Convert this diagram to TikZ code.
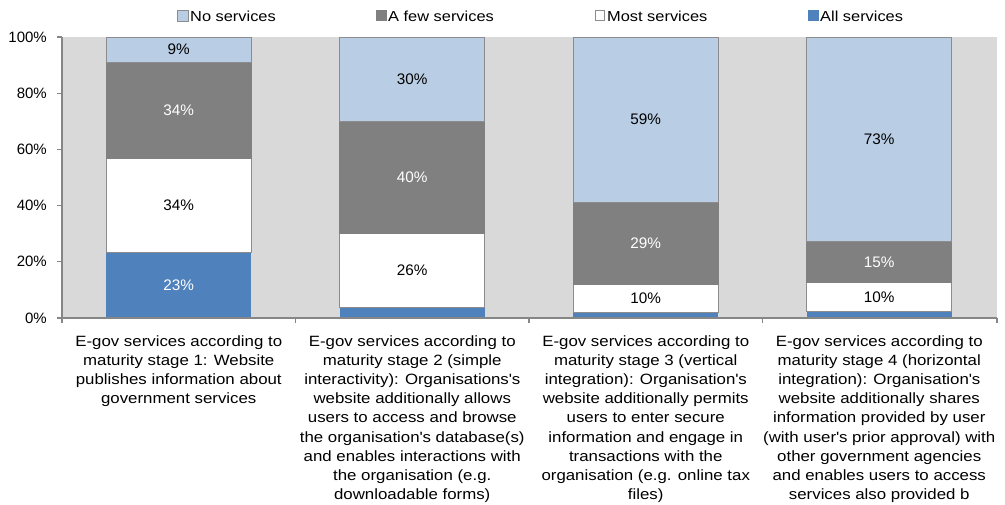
\documentclass[tikz,border=0pt]{standalone}
\usepackage{fontspec}
\setmainfont{Liberation Sans}[FakeStretch=1.13]
\newfontfamily\plainsans{Liberation Sans}
\definecolor{cNo}{HTML}{B9CDE5}
\definecolor{cFew}{HTML}{808080}
\definecolor{cAll}{HTML}{4F81BD}
\definecolor{cBg}{HTML}{D9D9D9}
\definecolor{cEdge}{HTML}{8C8C8C}
\definecolor{cAxis}{HTML}{868686}
\newcommand{\aq}{\textquotesingle}
\newcommand{\pct}[1]{318-2.81*#1}
\newcommand{\seg}[4]{\path[#4] ({#1-72.7},{\pct{#2}}) rectangle ({#1+72.7},{\pct{#3}});}
\tikzset{
  segNo/.style={fill=cNo,draw=cEdge,line width=1pt},
  segFew/.style={fill=cFew,draw=cFew,line width=1pt},
  segMost/.style={fill=white,draw=cEdge,line width=1pt},
  segAll/.style={fill=cAll},
  axisline/.style={draw=cAxis,line width=1.2pt},
  dlab/.style={inner sep=0pt,font=\plainsans\fontsize{15.3}{17}\selectfont},
  dlabw/.style={dlab,text=white},
  ylab/.style={anchor=east,inner sep=0pt,font=\plainsans\fontsize{15}{17}\selectfont},
  leglab/.style={anchor=base west,inner sep=0pt,font=\fontsize{14.5}{16}\selectfont},
  catlab/.style={anchor=north,inner sep=0pt,align=center,font=\fontsize{14.9}{19.2}\selectfont},
}
\begin{document}
\begin{tikzpicture}[x=1pt,y=-1pt]
\useasboundingbox (0,0) rectangle (1005,504);
\fill[cBg] (62,37) rectangle (997,318);
% bar 1
\seg{178.75}{0}{23.2}{segAll}
\seg{178.75}{23.2}{56.9}{segMost}
\seg{178.75}{56.9}{91}{segFew}
\seg{178.75}{91}{100}{segNo}
% bar 2
\seg{412.25}{0}{3.7}{segAll}
\seg{412.25}{3.7}{30.1}{segMost}
\seg{412.25}{30.1}{70.1}{segFew}
\seg{412.25}{70.1}{100}{segNo}
% bar 3
\seg{645.75}{0}{1.9}{segAll}
\seg{645.75}{1.9}{12.1}{segMost}
\seg{645.75}{12.1}{41.2}{segFew}
\seg{645.75}{41.2}{100}{segNo}
% bar 4
\seg{879.25}{0}{2.2}{segAll}
\seg{879.25}{2.2}{12.6}{segMost}
\seg{879.25}{12.6}{27.3}{segFew}
\seg{879.25}{27.3}{100}{segNo}
% data labels
\node[dlabw] (l1a) at (178.75,{\pct{11.6}}) {23\%};
\node[dlab]  (l1m) at (178.75,{\pct{40}}) {34\%};
\node[dlabw] (l1f) at (178.75,{\pct{74}}) {34\%};
\node[dlab]  (l1n) at (178.75,{\pct{95.5}}) {9\%};
\node[dlab]  (l2m) at (412.25,{\pct{16.9}}) {26\%};
\node[dlabw] (l2f) at (412.25,{\pct{50.1}}) {40\%};
\node[dlab]  (l2n) at (412.25,{\pct{85}}) {30\%};
\node[dlab]  (l3m) at (645.75,{\pct{7}}) {10\%};
\node[dlabw] (l3f) at (645.75,{\pct{26.6}}) {29\%};
\node[dlab]  (l3n) at (645.75,{\pct{70.6}}) {59\%};
\node[dlab]  (l4m) at (879.25,{\pct{7.4}}) {10\%};
\node[dlabw] (l4f) at (879.25,{\pct{20}}) {15\%};
\node[dlab]  (l4n) at (879.25,{\pct{63.6}}) {73\%};
% axes
\draw[axisline] (62,37) -- (62,318) -- (997,318);
\foreach \p in {0,20,...,100} {
  \draw[axisline] (57,{\pct{\p}}) -- (62,{\pct{\p}});
  \node[ylab] (y\p) at (47,{\pct{\p}}) {\p\%};
}
\foreach \x in {62,295.5,529,762.5,997} {
  \draw[axisline] (\x,318) -- (\x,323);
}
% legend
\path[segNo,line width=0.8pt] (177,10.5) rectangle (188,21);
\node[leglab] (gNo) at (190,21) {No services};
\path[fill=cFew] (376,10) rectangle (387,21);
\node[leglab] (gFew) at (388,21) {A few services};
\path[segMost,line width=0.8pt] (595,10.5) rectangle (604,20);
\node[leglab] (gMost) at (607,21) {Most services};
\path[fill=cAll] (808,10) rectangle (819,21);
\node[leglab] (gAll) at (820,21) {All services};
% category labels
\node[catlab] (c1) at (178.75,335) {E-gov services according to\\maturity stage 1: Website\\publishes information about\\government services};
\node[catlab] (c2) at (412.25,335) {E-gov services according to\\maturity stage 2 (simple\\interactivity): Organisations\aq s\\website additionally allows\\users to access and browse\\the organisation\aq s database(s)\\and enables interactions with\\the organisation (e.g.\\downloadable forms)};
\node[catlab] (c3) at (645.75,335) {E-gov services according to\\maturity stage 3 (vertical\\integration): Organisation\aq s\\website additionally permits\\users to enter secure\\information and engage in\\transactions with the\\organisation (e.g. online tax\\files)};
\node[catlab] (c4) at (879.25,335) {E-gov services according to\\maturity stage 4 (horizontal\\integration): Organisation\aq s\\website additionally shares\\information provided by user\\(with user\aq s prior approval) with\\other government agencies\\and enables users to access\\services also provided b};
\end{tikzpicture}
\end{document}
